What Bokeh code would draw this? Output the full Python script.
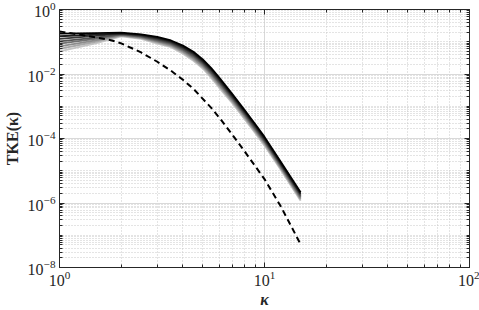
import numpy as np
from bokeh.plotting import figure
from bokeh.models import FixedTicker, LogAxis
from bokeh.embed import file_html
from bokeh.resources import INLINE

# wavenumbers at which the solid (gray-scale) spectra are read
k_solid = [1, 1.5, 2, 2.5, 3, 3.5, 4, 4.5, 5, 5.5, 6, 7, 8, 9, 10, 12, 15]
# log10(TKE) of the solid spectra, darkest (1) to lightest (8)
run_1 = [-0.75, -0.73, -0.72, -0.77, -0.85, -0.96, -1.12, -1.31, -1.55, -1.82, -2.10, -2.64, -3.12, -3.55, -3.95, -4.72, -5.67]
run_2 = [-0.83, -0.78, -0.74, -0.79, -0.88, -0.99, -1.16, -1.35, -1.59, -1.86, -2.15, -2.68, -3.16, -3.59, -3.99, -4.76, -5.71]
run_3 = [-0.91, -0.82, -0.75, -0.81, -0.91, -1.02, -1.19, -1.39, -1.63, -1.90, -2.19, -2.72, -3.20, -3.63, -4.03, -4.79, -5.74]
run_4 = [-0.99, -0.87, -0.77, -0.83, -0.94, -1.05, -1.23, -1.43, -1.67, -1.95, -2.24, -2.76, -3.24, -3.67, -4.07, -4.83, -5.78]
run_5 = [-1.06, -0.91, -0.78, -0.85, -0.97, -1.08, -1.26, -1.47, -1.71, -1.99, -2.28, -2.80, -3.28, -3.71, -4.10, -4.86, -5.82]
run_6 = [-1.14, -0.96, -0.80, -0.87, -1.00, -1.11, -1.30, -1.51, -1.75, -2.03, -2.33, -2.84, -3.32, -3.75, -4.14, -4.90, -5.86]
run_7 = [-1.22, -1.00, -0.81, -0.89, -1.03, -1.14, -1.33, -1.55, -1.79, -2.08, -2.37, -2.88, -3.36, -3.79, -4.18, -4.93, -5.89]
run_8 = [-1.30, -1.05, -0.83, -0.91, -1.06, -1.17, -1.37, -1.59, -1.83, -2.12, -2.42, -2.92, -3.40, -3.83, -4.22, -4.97, -5.93]
run_colors = ["#000000", "#1c1c1c", "#383838", "#545454", "#707070", "#8c8c8c", "#a8a8a8", "#c4c4c4"]

# reference (dashed) spectrum
k_ref = [1, 1.2, 1.5, 1.8, 2.0, 2.5, 3.0, 3.5, 4.0, 4.5, 5.5, 6.1, 7.0, 8.0, 10, 12, 15]
ref_log = [-0.68, -0.76, -0.86, -0.96, -1.05, -1.33, -1.62, -1.90, -2.18, -2.46, -3.05, -3.40, -3.90, -4.40, -5.26, -6.10, -7.28]

x_major = [1, 10, 100]
y_major = [1e-8, 1e-6, 1e-4, 1e-2, 1]

FONT = "Liberation Serif"
AX = "#262626"

p = figure(width=479, height=310, x_axis_type="log", y_axis_type="log",
           x_range=(1, 100), y_range=(1e-8, 1),
           output_backend="svg", toolbar_location=None,
           min_border_left=58, min_border_right=10, min_border_top=9, min_border_bottom=40)

x_minor = [m * 10.0 ** e for e in range(0, 2) for m in range(2, 10)]
y_minor = [m * 10.0 ** e for e in range(-8, 0) for m in range(1, 10)]
y_minor = [v for v in y_minor if v not in y_major]
xt = FixedTicker(ticks=x_major, minor_ticks=x_minor)
yt = FixedTicker(ticks=y_major, minor_ticks=y_minor)

runs = [run_1, run_2, run_3, run_4, run_5, run_6, run_7, run_8]
for r, c in reversed(list(zip(runs, run_colors))):
    p.line(k_solid, [10.0 ** v for v in r], line_color=c, line_width=1.8)

p.line(k_ref, [10.0 ** v for v in ref_log], line_color="black", line_width=2, line_dash="6 4")

for ax in (p.xaxis[0], p.yaxis[0]):
    ax.major_tick_in = 5
    ax.major_tick_out = 0
    ax.minor_tick_in = 3
    ax.minor_tick_out = 0
    ax.axis_line_color = AX
    ax.major_tick_line_color = AX
    ax.minor_tick_line_color = AX
    ax.major_label_text_font = FONT
    ax.major_label_text_font_size = "16px"
    ax.major_label_text_color = AX
    ax.axis_label_text_font = FONT
    ax.axis_label_text_font_size = "16px"
    ax.axis_label_text_font_style = "bold"
    ax.axis_label_text_color = AX
p.xaxis[0].ticker = xt
p.yaxis[0].ticker = yt
p.xaxis[0].axis_label = "κ"
p.xaxis[0].axis_label_text_font_style = "bold italic"
p.yaxis[0].axis_label = "TKE(κ)"
p.xaxis[0].major_label_standoff = 3
p.yaxis[0].major_label_standoff = 4
p.xaxis[0].axis_label_standoff = 2
p.yaxis[0].axis_label_standoff = 4

for loc, t, ticks in (("above", xt, x_major), ("right", yt, y_major)):
    a = LogAxis(ticker=t, major_tick_in=5, major_tick_out=0,
                minor_tick_in=3, minor_tick_out=0, axis_line_color=AX,
                major_tick_line_color=AX, minor_tick_line_color=AX,
                major_label_standoff=0, major_label_text_font_size="4px",
                major_label_text_color=None,
                major_label_overrides={v: " " for v in ticks})
    p.add_layout(a, loc)

for g, t in ((p.xgrid[0], xt), (p.ygrid[0], yt)):
    g.ticker = t
    g.grid_line_color = "#d9d9d9"
    g.grid_line_width = 1
    g.minor_grid_line_color = "#c8c8c8"
    g.minor_grid_line_dash = "1 2"
    g.minor_grid_line_width = 1

p.outline_line_color = AX
p.background_fill_color = "white"
p.border_fill_color = "white"

open("out.html", "w").write(file_html(p, INLINE))
